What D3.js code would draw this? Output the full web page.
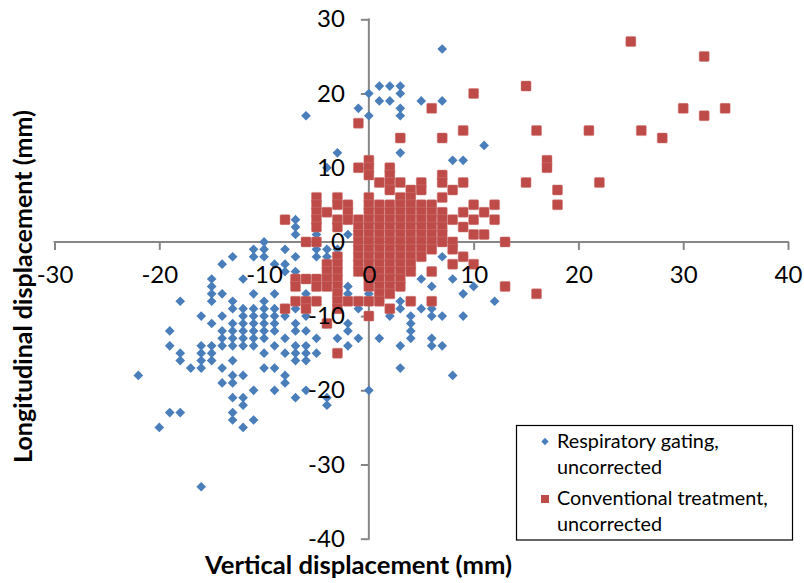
<!DOCTYPE html>
<html>
<head>
<meta charset="utf-8">
<script src="https://cdn.jsdelivr.net/npm/d3@7"></script>
<style>
  html, body { margin: 0; padding: 0; background: #fff; }
  svg { display: block; }
  text { font-family: Lato, "Open Sans", "Liberation Sans", sans-serif; }
</style>
</head>
<body>
<svg id="chart" width="804" height="583"></svg>
<script>
// Respiratory gating, uncorrected: [vertical, longitudinal] displacement (mm)
const gatingPoints = [
  [7,26],[1,21],[2,21],[3,21],[0,20],[3,20],[1,19],[2,19],[5,19],[7,19],[-1,18],[3,18],
  [-6,17],[0,17],[3,17],[11,13],[-3,12],[3,12],[8,11],[9,11],[-4,10],
  [2,4],[-7,3],[-7,2],[-7,1],[-5,1],[-2,1],
  [-10,0],[-11,-1],[-10,-1],[-13,-2],[-11,-2],[-10,-2],[-7,-2],[-5,-1],[-4,-1],[-5,-2],[-4,-2],
  [-3,-1],[-3,-2],[-8,-1],[-8,-3],
  [-14,-3],[-9,-3],[-8,-4],[-7,-4],[-15,-5],[-12,-5],[-4,-5],[-15,-6],[-2,-6],[-15,-7],[-14,-7],
  [-11,-7],[-9,-7],[-6,-7],[-2,-7],
  [-18,-8],[-15,-8],[-13,-8],[-10,-8],[-5,-8],[-3,-8],
  [-13,-9],[-12,-9],[-11,-9],[-10,-9],[-9,-9],[-7,-9],[-1,-9],
  [-16,-10],[-14,-10],[-12,-10],[-11,-10],[-10,-10],[-9,-10],[-8,-10],[-6,-10],
  [-15,-11],[-13,-11],[-12,-11],[-11,-11],[-10,-11],[-9,-11],[-7,-11],[-2,-11],
  [-19,-12],[-14,-12],[-13,-12],[-12,-12],[-11,-12],[-10,-12],[-9,-12],[-7,-12],[-6,-12],[-2,-12],
  [-14,-13],[-13,-13],[-12,-13],[-11,-13],[-10,-13],[-8,-13],[-5,-13],[-3,-13],[-1,-13],[1,-13],
  [-19,-14],[-16,-14],[-15,-14],[-14,-14],[-13,-14],[-12,-14],[-11,-14],[-9,-14],[-7,-14],[-6,-14],[-2,-14],
  [-18,-15],[-16,-15],[-15,-15],[-10,-15],[-8,-15],[-7,-15],[-6,-15],[-5,-15],
  [-18,-16],[-16,-16],[-15,-16],[-13,-16],[-7,-16],[-6,-16],
  [-17,-17],[-16,-17],[-14,-17],[-10,-17],[-9,-17],
  [-22,-18],[-13,-18],[-12,-18],[-8,-18],
  [-14,-19],[-13,-19],[-8,-19],
  [-11,-20],[-9,-20],[-6,-20],[0,-20],
  [-13,-21],[-12,-21],[-7,-21],[-4,-21],
  [-12,-22],[-4,-22],
  [-19,-23],[-18,-23],[-13,-23],
  [-13,-24],[-11,-24],
  [-20,-25],[-12,-25],
  [-16,-33],
  [7,-2],[5,-5],[8,-5],[1,-6],[2,-6],[6,-6],[10,-6],[0,-7],[1,-7],[9,-7],[3,-8],[12,-8],
  [2,-9],[3,-9],[5,-9],[6,-9],[2,-10],[4,-10],[6,-10],[7,-10],[9,-10],[4,-11],[4,-12],
  [4,-13],[6,-13],[3,-14],[6,-14],[7,-14],[3,-17],[8,-18],[2,-4],
  [0,-1],[1,-3],[3,-2],[0,-4],[4,-2],[-1,-4],[1,2],[5,0]
];

// Conventional treatment, uncorrected: [vertical, longitudinal] displacement (mm)
const conventionalPoints = [
  [25,27],[32,25],[15,21],[10,20],[6,18],[30,18],[34,18],[32,17],[-1,16],
  [9,15],[16,15],[21,15],[26,15],[28,14],[3,14],[7,14],[17,11],[17,10],
  [0,11],[-1,10],[0,10],[2,10],[0,9],[2,9],[7,9],
  [1,8],[2,8],[3,8],[5,8],[7,8],[9,8],[15,8],[22,8],
  [2,7],[4,7],[5,7],[8,7],[18,7],
  [-5,6],[-3,6],[0,6],[3,6],[4,6],[7,6],
  [18,5],[10,5],[12,5],[-5,5],[-3,5],[-2,5],[0,5],[1,5],[2,5],[3,5],[4,5],[5,5],[6,5],
  [-5,4],[-4,4],[-2,4],[0,4],[1,4],[2,4],[3,4],[4,4],[5,4],[6,4],[7,4],[9,4],[11,4],
  [-8,3],[-5,3],[-3,3],[-2,3],[-1,3],[0,3],[1,3],[2,3],[3,3],[4,3],[5,3],[6,3],[7,3],[8,3],[10,3],[12,3],
  [-5,2],[-3,2],[-1,2],[0,2],[1,2],[2,2],[3,2],[4,2],[5,2],[6,2],[7,2],[9,2],
  [-1,1],[0,1],[1,1],[2,1],[3,1],[4,1],[5,1],[6,1],[7,1],[10,1],[11,1],
  [-6,0],[-5,0],[-1,0],[0,0],[1,0],[2,0],[3,0],[4,0],[5,0],[6,0],[7,0],[8,0],[13,0],
  [-1,-1],[0,-1],[1,-1],[2,-1],[3,-1],[4,-1],[5,-1],[6,-1],[8,-1],
  [-3,-2],[-1,-2],[0,-2],[1,-2],[2,-2],[3,-2],[4,-2],[5,-2],[9,-2],
  [-4,-3],[-3,-3],[-1,-3],[0,-3],[1,-3],[2,-3],[3,-3],[4,-3],[8,-3],[10,-3],
  [-4,-4],[-3,-4],[-1,-4],[0,-4],[1,-4],[2,-4],[3,-4],[4,-4],[6,-4],
  [-7,-5],[-6,-5],[-5,-5],[-4,-5],[-3,-5],[0,-5],[1,-5],[2,-5],[3,-5],
  [-7,-6],[-5,-6],[-4,-6],[-3,-6],[0,-6],[1,-6],[2,-6],[3,-6],[13,-6],
  [-3,-7],[1,-7],[2,-7],[16,-7],
  [-7,-8],[-6,-8],[-5,-8],[-3,-8],[-2,-8],[-1,-8],[0,-8],[1,-8],[4,-8],[6,-8],
  [-8,-9],[-6,-9],[-3,-9],[2,-9],
  [0,-10],[-4,-11],[-3,-15]
];

const xTicks = [-30, -20, -10, 0, 10, 20, 30, 40];
const yTicks = [-40, -30, -20, -10, 0, 10, 20, 30];
const seriesNames = [
  ["Respiratory gating,", "uncorrected"],
  ["Conventional treatment,", "uncorrected"]
];
const xTitle = "Vertical displacement (mm)";
const yTitle = "Longitudinal displacement (mm)";

const BLUE = "#4a7ebb";
const RED = "#be4b48";
const AXIS = "#868686";

const svg = d3.select("#chart");

const x = d3.scaleLinear().domain([-30, 40]).range([54.5, 788]);
const y = d3.scaleLinear().domain([-40, 30]).range([538.7, 19.3]);

// Shrink or grow a text's font-size so it spans the given width
function fitWidth(sel, width) {
  const node = sel.node();
  const size = parseFloat(sel.attr("font-size"));
  const w = node.getComputedTextLength();
  if (w > 0) sel.attr("font-size", (size * width / w).toFixed(2));
}

// Axis lines and ticks (behind the markers)
const xAxisLines = svg.append("g")
  .attr("transform", `translate(0,${y(0)})`)
  .call(d3.axisBottom(x).tickValues(xTicks).tickSize(8).tickFormat(""));
const yAxisLines = svg.append("g")
  .attr("transform", `translate(${x(0)},0)`)
  .call(d3.axisLeft(y).tickValues(yTicks).tickSize(8).tickFormat(""));
[xAxisLines, yAxisLines].forEach(g => {
  g.select(".domain").attr("stroke", AXIS).attr("stroke-width", 2);
  g.selectAll(".tick line").attr("stroke", AXIS).attr("stroke-width", 2);
  g.selectAll(".tick text").remove();
});
// axisBottom/axisLeft draw outer ticks on the domain; remove them so the line ends cleanly
xAxisLines.select(".domain").attr("d", `M${x(-30)},0.5V0H${x(40)}V0.5`);
yAxisLines.select(".domain").attr("d", `M-0.5,${y(30)}H0V${y(-40)}H-0.5`);

// Markers
const diamond = d3.symbol().type(d3.symbolDiamond2).size(60);
svg.append("g")
  .selectAll("path")
  .data(gatingPoints)
  .join("path")
  .attr("d", diamond)
  .attr("transform", d => `translate(${x(d[0])},${y(d[1])})`)
  .attr("fill", BLUE);

const sq = 10;
svg.append("g")
  .selectAll("rect")
  .data(conventionalPoints)
  .join("rect")
  .attr("x", d => x(d[0]) - sq / 2)
  .attr("y", d => y(d[1]) - sq / 2)
  .attr("width", sq)
  .attr("height", sq)
  .attr("rx", 1.2)
  .attr("fill", RED)
  .attr("stroke", "#cf7b79")
  .attr("stroke-opacity", 0.6)
  .attr("stroke-width", 0.8);

// Tick labels on top of the markers
const labelFont = 24;
const xLabels = svg.append("g")
  .attr("transform", `translate(0,${y(0)})`)
  .call(d3.axisBottom(x).tickValues(xTicks).tickSize(8).tickPadding(16).tickFormat(d3.format("d")));
const yLabels = svg.append("g")
  .attr("transform", `translate(${x(0)},0)`)
  .call(d3.axisLeft(y).tickValues(yTicks).tickSize(8).tickPadding(16).tickFormat(d3.format("d")));
[xLabels, yLabels].forEach(g => {
  g.select(".domain").remove();
  g.selectAll(".tick line").remove();
  g.attr("font-family", null).attr("font-size", null);
  g.selectAll(".tick text")
    .attr("fill", "#000")
    .attr("font-size", labelFont)
    .style("font-family", "Lato, 'Open Sans', sans-serif")
    .text(d => String(d)); // plain hyphen for negatives
});

// Axis titles
const xt = svg.append("text")
  .attr("x", 358.5)
  .attr("y", 574)
  .attr("text-anchor", "middle")
  .attr("font-weight", "bold")
  .attr("font-size", 22)
  .attr("fill", "#000")
  .text(xTitle);
fitWidth(xt, 307);

const yt = svg.append("text")
  .attr("transform", "translate(32,286.5) rotate(-90)")
  .attr("text-anchor", "middle")
  .attr("font-weight", "bold")
  .attr("font-size", 22)
  .attr("fill", "#000")
  .text(yTitle);
fitWidth(yt, 353);

// Legend
const legend = svg.append("g");
legend.append("rect")
  .attr("x", 516.5).attr("y", 425.5)
  .attr("width", 276).attr("height", 114.5)
  .attr("fill", "#fff")
  .attr("stroke", "#000")
  .attr("stroke-width", 1.2);

legend.append("path")
  .attr("d", d3.symbol().type(d3.symbolDiamond2).size(34)())
  .attr("transform", "translate(545,441.5)")
  .attr("fill", BLUE);
legend.append("rect")
  .attr("x", 541).attr("y", 495)
  .attr("width", 8).attr("height", 8)
  .attr("fill", RED);

const legendLines = [
  { text: seriesNames[0][0], y: 447.5 },
  { text: seriesNames[0][1], y: 473.5 },
  { text: seriesNames[1][0], y: 505 },
  { text: seriesNames[1][1], y: 531 }
];
const lt = legend.selectAll("text.item")
  .data(legendLines)
  .join("text")
  .attr("class", "item")
  .attr("x", 557)
  .attr("y", d => d.y)
  .attr("font-size", 19)
  .attr("fill", "#000")
  .text(d => d.text);
// scale all legend lines by the widest entry
const widest = lt.filter((d, i) => i === 2);
const before = widest.node().getComputedTextLength();
const legendSize = 19 * 211 / before;
lt.attr("font-size", legendSize.toFixed(2));
</script>
</body>
</html>
